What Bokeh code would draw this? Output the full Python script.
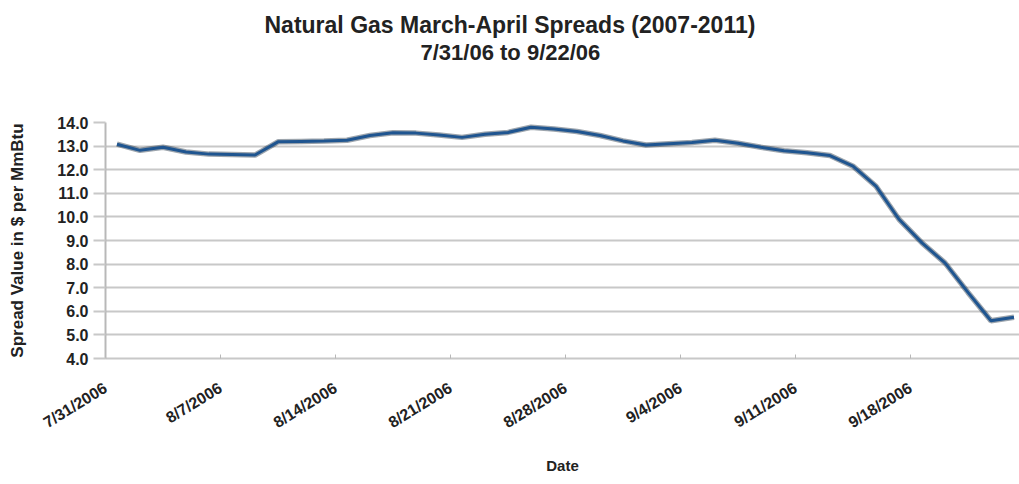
from bokeh.plotting import figure
from bokeh.models import Range1d, FixedTicker, Title, PrintfTickFormatter
from bokeh.embed import file_html
from bokeh.resources import INLINE

# ---- data ----
dates = [
    "7/31/2006", "8/1/2006", "8/2/2006", "8/3/2006", "8/4/2006",
    "8/7/2006", "8/8/2006", "8/9/2006", "8/10/2006", "8/11/2006",
    "8/14/2006", "8/15/2006", "8/16/2006", "8/17/2006", "8/18/2006",
    "8/21/2006", "8/22/2006", "8/23/2006", "8/24/2006", "8/25/2006",
    "8/28/2006", "8/29/2006", "8/30/2006", "8/31/2006", "9/1/2006",
    "9/4/2006", "9/5/2006", "9/6/2006", "9/7/2006", "9/8/2006",
    "9/11/2006", "9/12/2006", "9/13/2006", "9/14/2006", "9/15/2006",
    "9/18/2006", "9/19/2006", "9/20/2006", "9/21/2006", "9/22/2006",
]
spread = [
    13.08, 12.82, 12.95, 12.75, 12.66,
    12.64, 12.62, 13.18, 13.20, 13.22,
    13.25, 13.45, 13.57, 13.55, 13.47,
    13.37, 13.50, 13.58, 13.80, 13.72,
    13.62, 13.45, 13.22, 13.05, 13.10,
    13.15, 13.25, 13.12, 12.95, 12.80,
    12.72, 12.60, 12.15, 11.30, 9.90,
    8.90, 8.05, 6.80, 5.60, 5.75,
]
tick_labels = ["7/31/2006", "8/7/2006", "8/14/2006", "8/21/2006",
               "8/28/2006", "9/4/2006", "9/11/2006", "9/18/2006"]
y_ticks = [4, 5, 6, 7, 8, 9, 10, 11, 12, 13, 14]
title_1 = "Natural Gas March-April Spreads (2007-2011)"
title_2 = "7/31/06 to 9/22/06"

FONT = "Liberation Sans"
TXT = "#222222"
GRID = "#c8c8c8"

xs = list(range(len(dates)))
tick_pos = [dates.index(t) - 0.5 for t in tick_labels]

p = figure(width=1019, height=484, output_backend="svg", toolbar_location=None,
           x_range=Range1d(-0.5, 39.24), y_range=Range1d(4, 14),
           min_border_left=105, min_border_right=0, min_border_top=122,
           min_border_bottom=126)
p.outline_line_color = None
p.background_fill_color = "white"
p.border_fill_color = "white"

# shadow + line
p.line(xs, spread, line_color="#0a1e33", line_alpha=0.4, line_width=5.5)
p.line(xs, spread, line_color="#1f5590", line_width=3)

# axes
p.xgrid.grid_line_color = None
p.ygrid.grid_line_color = GRID
p.ygrid.grid_line_width = 2
p.ygrid.ticker = FixedTicker(ticks=y_ticks)

p.yaxis.ticker = FixedTicker(ticks=y_ticks)
p.yaxis.formatter = PrintfTickFormatter(format="%.1f")
p.yaxis.axis_line_color = "#b8b8b8"
p.yaxis.axis_line_width = 2
p.yaxis.major_tick_line_color = GRID
p.yaxis.major_tick_line_width = 2
p.yaxis.major_tick_out = 12
p.yaxis.major_tick_in = 0
p.yaxis.minor_tick_line_color = None
p.yaxis.major_label_text_font = FONT
p.yaxis.major_label_text_font_style = "bold"
p.yaxis.major_label_text_font_size = "16px"
p.yaxis.major_label_text_color = TXT
p.yaxis.major_label_standoff = 5
p.yaxis.axis_label = "Spread Value in $ per MmBtu"
p.yaxis.axis_label_text_font = FONT
p.yaxis.axis_label_text_font_style = "bold"
p.yaxis.axis_label_text_font_size = "17px"
p.yaxis.axis_label_text_color = TXT
p.yaxis.axis_label_standoff = 27

p.xaxis.ticker = FixedTicker(ticks=tick_pos)
p.xaxis.major_label_overrides = {pos: lab for pos, lab in zip(tick_pos, tick_labels)}
p.xaxis.major_label_orientation = 0.55
p.xaxis.axis_line_color = GRID
p.xaxis.axis_line_width = 2
p.xaxis.major_tick_line_color = "#b8b8b8"
p.xaxis.major_tick_in = 4
p.xaxis.major_tick_out = 0
p.xaxis.minor_tick_line_color = None
p.xaxis.major_label_text_font = FONT
p.xaxis.major_label_text_font_style = "bold"
p.xaxis.major_label_text_font_size = "16px"
p.xaxis.major_label_text_color = TXT
p.xaxis.major_label_standoff = 28
p.xaxis.axis_label = "Date"
p.xaxis.axis_label_text_font = FONT
p.xaxis.axis_label_text_font_style = "bold"
p.xaxis.axis_label_text_font_size = "15px"
p.xaxis.axis_label_text_color = TXT
p.xaxis.axis_label_standoff = 16

# titles stacked above the frame (first added sits closest to the frame)
p.add_layout(Title(text=" ", text_font_size="41px"), "above")
p.add_layout(Title(text=title_2, align="left", offset=315, standoff=0,
                   text_font=FONT, text_font_style="bold",
                   text_font_size="22px", text_color=TXT), "above")
p.add_layout(Title(text=title_1, align="left", offset=159, standoff=0,
                   text_font=FONT, text_font_style="bold",
                   text_font_size="23px", text_color=TXT), "above")

open("out.html", "w").write(file_html(p, INLINE))
